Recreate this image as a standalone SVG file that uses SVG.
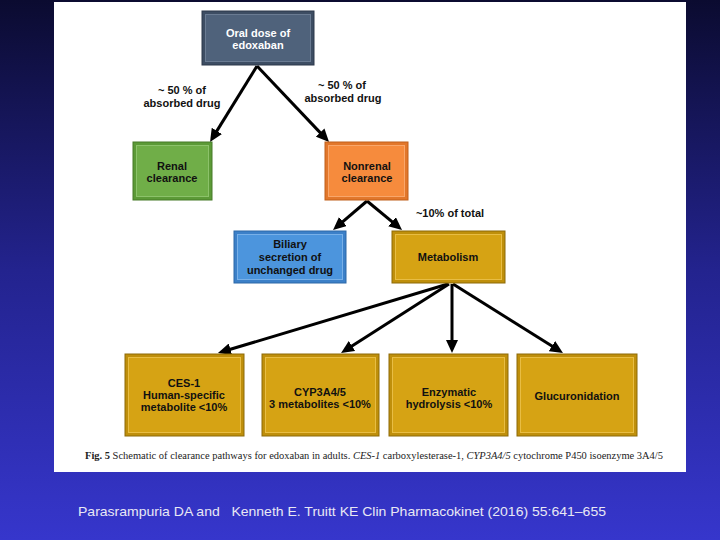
<svg xmlns="http://www.w3.org/2000/svg" width="720" height="540" viewBox="0 0 720 540">
<defs>
<linearGradient id="bg" x1="0" y1="0" x2="0" y2="1">
<stop offset="0" stop-color="#0b0b30"/>
<stop offset="0.5" stop-color="#23238e"/>
<stop offset="1" stop-color="#3636cc"/>
</linearGradient>
<marker id="ah" markerUnits="userSpaceOnUse" markerWidth="13" markerHeight="12" refX="7" refY="6" orient="auto">
<path d="M0,0 L13,6 L0,12 Z" fill="#000"/>
</marker>
<style>
.lbl{font-family:"Liberation Sans",Arial,sans-serif;font-weight:bold;font-size:11px;fill:#111;text-anchor:middle}
.wl{fill:#fff}
.con{stroke:#000;stroke-width:3;fill:none;marker-end:url(#ah)}
.slate .o{fill:#3d4d63;stroke:#2c394b}
.slate .i{fill:#4f627b;stroke:#6a7b92}
.green .o{fill:#5c9a37;stroke:#467a28}
.green .i{fill:#70ae48;stroke:#8cc26a}
.orange .o{fill:#e2772b;stroke:#c0601c}
.orange .i{fill:#f68b3d;stroke:#f9a66a}
.blue .o{fill:#3c80c8;stroke:#2d68a8}
.blue .i{fill:#4c95dd;stroke:#78b0e8}
.gold .o{fill:#bf8f0b;stroke:#8d6a08}
.gold .i{fill:#d6a314;stroke:#e8bd44}
</style>
</defs>
<rect x="0" y="0" width="720" height="540" fill="url(#bg)"/>
<rect x="54" y="2" width="632" height="470" fill="#ffffff"/>

<g id="connectors">
<line class="con" x1="257" y1="66" x2="213.2" y2="136.9"/>
<line class="con" x1="257" y1="66" x2="324.9" y2="137.6"/>
<line class="con" x1="367" y1="201" x2="337.6" y2="226.1"/>
<line class="con" x1="367" y1="201" x2="397.4" y2="226.2"/>
<line class="con" x1="448" y1="284" x2="223.7" y2="351.3"/>
<line class="con" x1="449" y1="284" x2="346.1" y2="349.8"/>
<line class="con" x1="452" y1="284" x2="452" y2="347"/>
<line class="con" x1="453" y1="284" x2="557.9" y2="349.8"/>
</g>

<g id="label-renal-pct">
<text class="lbl" x="182" y="94">~ 50 % of</text>
<text class="lbl" x="182" y="107">absorbed drug</text>
</g>
<g id="label-nonrenal-pct">
<text class="lbl" x="342" y="89">~ 50 % of</text>
<text class="lbl" x="343" y="102">absorbed drug</text>
</g>
<g id="label-metab-pct">
<text class="lbl" x="450" y="217">~10% of total</text>
</g>

<g id="oral" class="slate">
<rect class="o" x="202" y="11" width="112" height="54"/>
<rect class="i" x="205.5" y="14.5" width="105" height="47"/>
<text class="lbl wl" x="258" y="37">Oral dose of</text>
<text class="lbl wl" x="258" y="49">edoxaban</text>
</g>

<g id="renal" class="green">
<rect class="o" x="133" y="142" width="79" height="58"/>
<rect class="i" x="136.5" y="145.5" width="72" height="51"/>
<text class="lbl" x="172" y="170">Renal</text>
<text class="lbl" x="172" y="182">clearance</text>
</g>

<g id="nonrenal" class="orange">
<rect class="o" x="325" y="142" width="83" height="58"/>
<rect class="i" x="328.5" y="145.5" width="76" height="51"/>
<text class="lbl" x="367" y="170">Nonrenal</text>
<text class="lbl" x="367" y="182">clearance</text>
</g>

<g id="biliary" class="blue">
<rect class="o" x="234" y="231" width="112" height="52"/>
<rect class="i" x="237.5" y="234.5" width="105" height="45"/>
<text class="lbl" x="290" y="248">Biliary</text>
<text class="lbl" x="290" y="261">secretion of</text>
<text class="lbl" x="290" y="274">unchanged drug</text>
</g>

<g id="metabolism" class="gold">
<rect class="o" x="392" y="231" width="113" height="52"/>
<rect class="i" x="395.5" y="234.5" width="106" height="45"/>
<text class="lbl" x="448" y="261">Metabolism</text>
</g>

<g id="ces1" class="gold">
<rect class="o" x="125" y="354" width="119" height="82"/>
<rect class="i" x="128.5" y="357.5" width="112" height="75"/>
<text class="lbl" x="184" y="387">CES-1</text>
<text class="lbl" x="184" y="399">Human-specific</text>
<text class="lbl" x="184" y="411">metabolite &lt;10%</text>
</g>

<g id="cyp" class="gold">
<rect class="o" x="262" y="354" width="117" height="82"/>
<rect class="i" x="265.5" y="357.5" width="110" height="75"/>
<text class="lbl" x="320" y="396">CYP3A4/5</text>
<text class="lbl" x="320" y="408">3 metabolites &lt;10%</text>
</g>

<g id="enzymatic" class="gold">
<rect class="o" x="389" y="354" width="119" height="82"/>
<rect class="i" x="392.5" y="357.5" width="112" height="75"/>
<text class="lbl" x="449" y="396">Enzymatic</text>
<text class="lbl" x="449" y="408">hydrolysis &lt;10%</text>
</g>

<g id="glucuronidation" class="gold">
<rect class="o" x="517" y="354" width="120" height="82"/>
<rect class="i" x="520.5" y="357.5" width="113" height="75"/>
<text class="lbl" x="577" y="400">Glucuronidation</text>
</g>

<text x="85" y="459" textLength="578" lengthAdjust="spacingAndGlyphs" font-family="'Liberation Serif','Times New Roman',serif" font-size="10.5" fill="#222"><tspan font-weight="bold">Fig. 5</tspan>  Schematic of clearance pathways for edoxaban in adults. <tspan font-style="italic">CES-1</tspan> carboxylesterase-1, <tspan font-style="italic">CYP3A4/5</tspan> cytochrome P450 isoenzyme 3A4/5</text>

<text x="78" y="516" textLength="528" lengthAdjust="spacingAndGlyphs" font-family="'Liberation Sans',Arial,sans-serif" font-size="13.5" fill="#e8e8f4" xml:space="preserve">Parasrampuria DA and   Kenneth E. Truitt KE Clin Pharmacokinet (2016) 55:641–655</text>
</svg>
